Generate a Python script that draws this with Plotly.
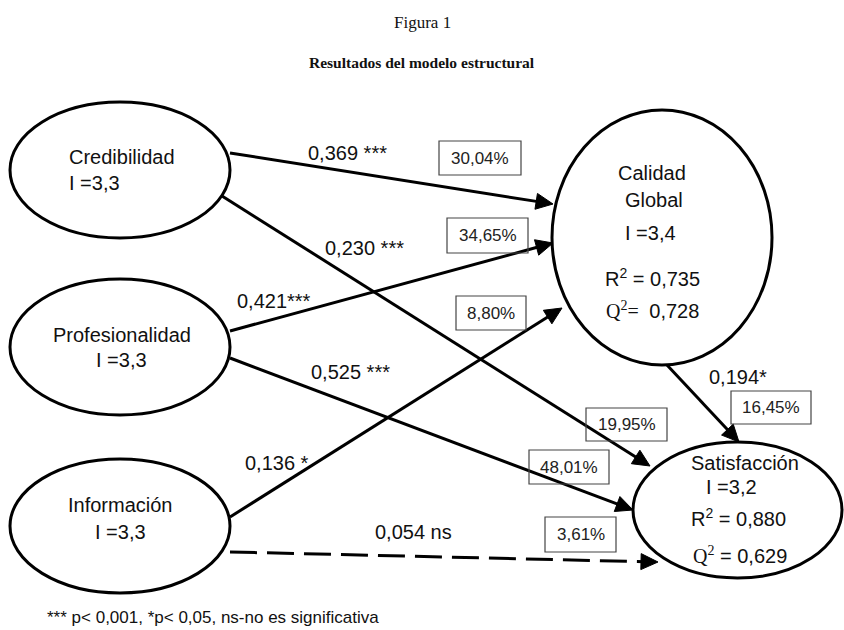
import math
import plotly.graph_objects as go

# ---------------- data ----------------
node_names = ["Credibilidad", "Profesionalidad", "Información", "Calidad Global", "Satisfacción"]
node_index = ["3,3", "3,3", "3,3", "3,4", "3,2"]
r2_values = {"Calidad Global": "0,735", "Satisfacción": "0,880"}
q2_values = {"Calidad Global": "0,728", "Satisfacción": "0,629"}

edge_sources = ["Credibilidad", "Credibilidad", "Profesionalidad", "Profesionalidad",
                "Información", "Información", "Calidad Global"]
edge_targets = ["Calidad Global", "Satisfacción", "Calidad Global", "Satisfacción",
                "Calidad Global", "Satisfacción", "Satisfacción"]
path_coefs = ["0,369", "0,230", "0,421", "0,525", "0,136", "0,054", "0,194"]
path_sig = [" ***", " ***", "***", " ***", " *", " ns", "*"]
explained_pct = ["30,04%", "19,95%", "34,65%", "48,01%", "8,80%", "3,61%", "16,45%"]

title_top = "Figura 1"
title_main = "Resultados del modelo estructural"
footnote = "*** p< 0,001, *p< 0,05, ns-no es significativa"

# ---------------- layout (pixel geometry) ----------------
W, H = 844, 630
SANS = "Liberation Sans, Arial, sans-serif"
SERIF = "Liberation Serif, Times New Roman, serif"

ellipses = {  # cx, cy, rx, ry
    "Credibilidad": (120, 170, 110, 68),
    "Profesionalidad": (120, 347, 110, 68),
    "Información": (120, 526, 110, 67),
    "Calidad Global": (662, 237.5, 110, 127.5),
    "Satisfacción": (737.5, 510, 104.5, 68),
}
edge_geom = [  # start, tip
    ((230, 153), (553, 204)),
    ((222, 196), (650, 466)),
    ((230, 331), (553, 243)),
    ((230, 358), (633, 510)),
    ((230, 517), (562, 308)),
    ((230, 552), (658, 562)),
    ((667, 365), (739, 442)),
]
edge_dash = ["solid", "solid", "solid", "solid", "solid", "27px,10px", "solid"]
coef_pos = [(347, 153), (364, 248), (274, 301), (350, 372), (277, 463), (413, 532), (738, 377)]
pct_boxes = [  # x0, x1, y0, y1
    (439, 521, 141, 175),
    (586, 667, 408, 441),
    (447, 528, 218, 253),
    (529, 609, 450, 484),
    (456, 526, 296, 330),
    (545, 616, 517, 552),
    (731, 811, 391, 424),
]

fig = go.Figure()
fig.add_trace(go.Scatter(x=[0, W], y=[0, H], mode="markers",
                         marker=dict(opacity=0), hoverinfo="skip", showlegend=False))

shapes = []
annotations = []

# edge lines
AL, AW = 17, 8  # arrow length, half width
for (s, t), dash in zip(edge_geom, edge_dash):
    dx, dy = t[0] - s[0], t[1] - s[1]
    L = math.hypot(dx, dy)
    ux, uy = dx / L, dy / L
    ex, ey = t[0] - ux * AL * 0.8, t[1] - uy * AL * 0.8
    shapes.append(dict(type="line", x0=s[0], y0=s[1], x1=ex, y1=ey,
                       line=dict(color="black", width=3, dash=dash), layer="above"))
    bx, by = t[0] - ux * AL, t[1] - uy * AL
    px, py = -uy * AW, ux * AW
    path = f"M {t[0]} {t[1]} L {bx + px} {by + py} L {bx - px} {by - py} Z"
    shapes.append(dict(type="path", path=path, fillcolor="black",
                       line=dict(color="black", width=1), layer="above"))

# ellipses
for name, (cx, cy, rx, ry) in ellipses.items():
    shapes.append(dict(type="circle", x0=cx - rx, x1=cx + rx, y0=cy - ry, y1=cy + ry,
                       line=dict(color="black", width=3), fillcolor="rgba(0,0,0,0)",
                       layer="above"))

# percentage boxes
for (x0, x1, y0, y1), pct in zip(pct_boxes, explained_pct):
    shapes.append(dict(type="rect", x0=x0, x1=x1, y0=y0, y1=y1,
                       line=dict(color="#444", width=1.2), fillcolor="rgba(0,0,0,0)",
                       layer="above"))
    annotations.append(dict(x=(x0 + x1) / 2, y=(y0 + y1) / 2, text=pct, showarrow=False,
                            font=dict(family=SANS, size=17, color="#222")))

# coefficient labels
for (x, y), c, sgn in zip(coef_pos, path_coefs, path_sig):
    annotations.append(dict(x=x, y=y, text=c + sgn, showarrow=False,
                            font=dict(family=SANS, size=20, color="#111")))


def txt(x, y, text, size=20, anchor="center", family=SANS):
    annotations.append(dict(x=x, y=y, text=text, showarrow=False, xanchor=anchor,
                            font=dict(family=family, size=size, color="#111")))


idx = dict(zip(node_names, node_index))
serif_q = f"<span style=\"font-family:'Liberation Serif', serif\">Q<sup>2</sup></span>"
# exogenous nodes
txt(67, 157, node_names[0], anchor="left")
txt(67, 183, "I =" + idx["Credibilidad"], anchor="left")
txt(122, 335, node_names[1])
txt(121, 360, "I =" + idx["Profesionalidad"])
txt(120, 505, node_names[2])
txt(120, 532, "I =" + idx["Información"])
# Calidad Global
cg1, cg2 = node_names[3].split(" ")
txt(652, 173, cg1)
txt(654, 200, cg2)
txt(650, 233, "I =" + idx["Calidad Global"])
txt(652, 277, "R<sup>2</sup> = " + r2_values["Calidad Global"])
txt(652, 310, f"<span style=\"font-family:'Liberation Serif', serif\">Q<sup>2</sup>= </span> "
    + q2_values["Calidad Global"])
# Satisfacción
txt(745, 463, node_names[4])
txt(731, 487, "I =" + idx["Satisfacción"])
txt(738, 517, "R<sup>2</sup> = " + r2_values["Satisfacción"])
txt(740, 555, serif_q + " = " + q2_values["Satisfacción"])

# titles and footnote
txt(422, 22, title_top, size=17, family=SERIF)
txt(422, 62, "<b>" + title_main + "</b>", size=15.5, family=SERIF)
txt(45, 617, footnote, size=17, anchor="left")

fig.update_layout(
    width=W, height=H,
    margin=dict(l=0, r=0, t=0, b=0),
    paper_bgcolor="white", plot_bgcolor="white",
    xaxis=dict(range=[0, W], visible=False, fixedrange=True),
    yaxis=dict(range=[H, 0], visible=False, fixedrange=True),
    shapes=shapes, annotations=annotations, showlegend=False,
)
fig.write_html("out.html", config={"displayModeBar": False},
               post_script="document.body.style.margin='0px';document.body.style.overflow='hidden';")
